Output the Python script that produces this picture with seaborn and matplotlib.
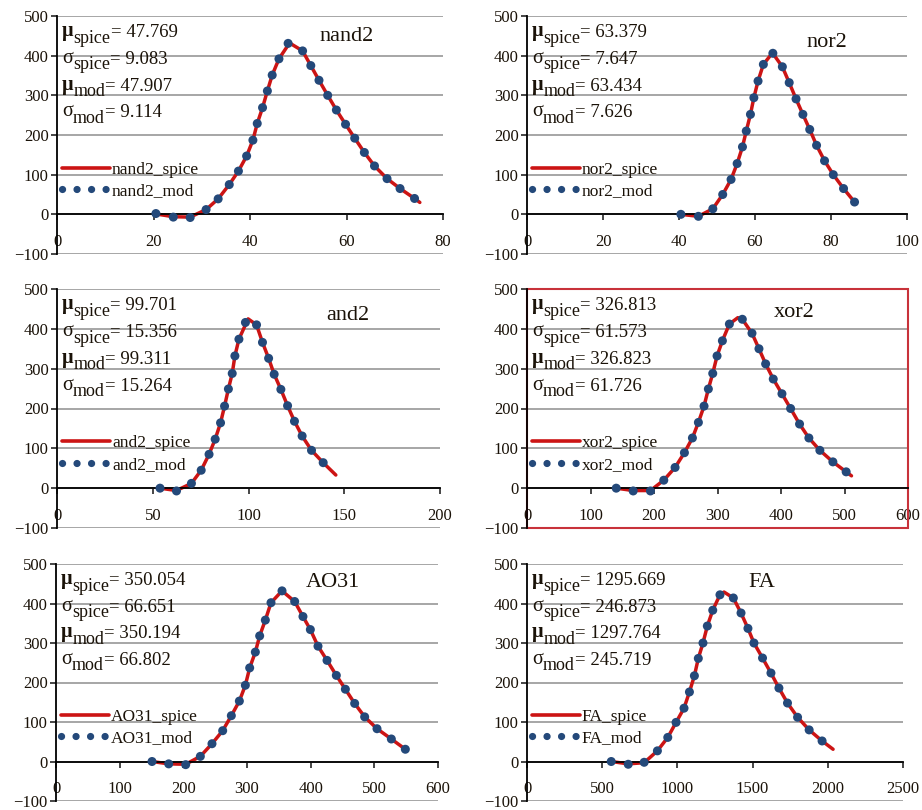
import matplotlib.pyplot as plt
import seaborn as sns
from matplotlib.lines import Line2D
from matplotlib.patches import Rectangle

# values
gates = ["nand2", "nor2", "and2", "xor2", "AO31", "FA"]

nand2_x = [20.5, 24.1, 27.6, 30.9, 33.4, 35.7, 37.6, 39.3, 40.6, 41.5, 42.6, 43.6, 44.6, 46.0,
           47.9, 50.9, 52.6, 54.3, 56.1, 57.9, 59.8, 61.7, 63.7, 65.8, 68.4, 71.1, 74.1]
nand2_mod = [2, -7, -8, 12, 39, 75, 109, 147, 187, 229, 269, 311, 351, 392,
             431, 412, 375, 338, 300, 263, 227, 192, 156, 122, 90, 65, 40]
nand2_spice_x = [20.5, 24.1, 27.6, 30.9, 33.4, 35.7, 37.6, 39.3, 40.6, 41.5, 42.6, 43.6, 44.6, 46.0,
                 48.2, 50.9, 52.6, 54.3, 56.1, 57.9, 59.8, 61.7, 63.7, 65.8, 68.4, 71.1, 74.1, 75.2]
nand2_spice = [1, -6, -7, 12, 39, 75, 109, 147, 187, 229, 269, 311, 351, 392,
               432, 412, 375, 338, 300, 263, 227, 192, 156, 122, 90, 65, 40, 30]

nor2_x = [40.5, 45.1, 48.9, 51.5, 53.7, 55.3, 56.7, 57.7, 58.8, 59.7, 60.8, 62.2, 64.7,
          67.2, 69.0, 70.8, 72.6, 74.4, 76.2, 78.3, 80.6, 83.3, 86.2]
nor2_mod = [0, -5, 14, 50, 88, 128, 170, 210, 252, 294, 336, 378, 406,
            372, 332, 291, 252, 214, 174, 135, 100, 65, 31]
nor2_spice_x = [40.5, 45.1, 48.9, 51.5, 53.7, 55.3, 56.7, 57.7, 58.8, 59.7, 60.8, 62.2, 64.6,
                67.2, 69.0, 70.8, 72.6, 74.4, 76.2, 78.3, 80.6, 83.3, 86.2]
nor2_spice = [0, -5, 14, 50, 88, 128, 170, 210, 252, 294, 336, 378, 407,
              372, 332, 291, 252, 214, 174, 135, 100, 65, 31]

and2_x = [53.8, 62.4, 70.2, 75.3, 79.4, 82.6, 85.4, 87.5, 89.5, 91.5, 92.9, 95.0, 98.4,
          104.2, 107.3, 110.5, 113.4, 116.9, 120.4, 124.0, 128.0, 132.9, 139.0]
and2_mod = [0, -7, 12, 45, 85, 123, 164, 206, 249, 288, 332, 374, 416,
            410, 366, 326, 286, 248, 207, 168, 131, 95, 64]
and2_spice_x = [53.8, 62.4, 70.2, 75.3, 79.4, 82.6, 85.4, 87.5, 89.5, 91.5, 92.9, 95.0, 99.8,
                104.2, 107.3, 110.5, 113.4, 116.9, 120.4, 124.0, 128.0, 132.9, 139.0, 145.6]
and2_spice = [0, -6, 12, 45, 85, 123, 164, 206, 249, 288, 332, 374, 425,
              410, 366, 326, 286, 248, 207, 168, 131, 95, 64, 33]

xor2_x = [140.5, 167.2, 194.4, 215.4, 233.2, 247.9, 260.5, 269.9, 278.8, 285.6, 292.5, 299.3, 307.7,
          318.7, 339.1, 354.3, 365.3, 375.8, 387.8, 401.5, 415.1, 429.2, 443.9, 461.2, 481.7, 502.6]
xor2_mod = [0, -7, -7, 20, 52, 89, 126, 165, 206, 249, 288, 332, 370,
            412, 424, 389, 350, 312, 274, 237, 200, 161, 126, 95, 66, 41]
xor2_spice_x = [140.5, 167.2, 194.4, 215.4, 233.2, 247.9, 260.5, 269.9, 278.8, 285.6, 292.5, 299.3,
                307.7, 318.7, 332.0, 339.1, 354.3, 365.3, 375.8, 387.8, 401.5, 415.1, 429.2, 443.9,
                461.2, 481.7, 502.6, 511.0]
xor2_spice = [0, -6, -6, 20, 52, 89, 126, 165, 206, 249, 288, 332,
              370, 412, 428, 424, 389, 350, 312, 274, 237, 200, 161, 126,
              95, 66, 41, 31]

ao31_x = [150.8, 177.0, 203.7, 226.7, 245.0, 261.8, 275.4, 288.0, 297.4, 304.2, 313.1, 319.9, 328.8,
          337.7, 355.0, 374.9, 387.9, 399.5, 411.5, 425.7, 440.3, 454.5, 469.1, 484.8, 504.2, 526.7,
          548.7]
ao31_mod = [0, -6, -8, 13, 45, 78, 116, 153, 193, 237, 277, 318, 358,
            402, 432, 405, 367, 334, 292, 256, 218, 183, 147, 113, 83, 57, 31]
ao31_spice_x = ao31_x
ao31_spice = [0, -6, -7, 13, 45, 78, 116, 153, 193, 237, 277, 318, 358,
              402, 432, 405, 367, 334, 292, 256, 218, 183, 147, 113, 83, 57, 31]

fa_x = [560, 673, 779, 867, 936, 991, 1044, 1080, 1113, 1139, 1170, 1199, 1235,
        1283, 1372, 1423, 1469, 1509, 1566, 1622, 1675, 1732, 1799, 1876, 1962]
fa_mod = [0, -7, -2, 27, 61, 99, 135, 176, 217, 261, 300, 343, 383,
          422, 414, 376, 337, 300, 262, 224, 186, 148, 112, 80, 52]
fa_spice_x = [560, 673, 779, 867, 936, 991, 1044, 1080, 1113, 1139, 1170, 1199, 1235,
              1283, 1310, 1372, 1423, 1469, 1509, 1566, 1622, 1675, 1732, 1799, 1876, 1962, 2035]
fa_spice = [0, -6, -3, 27, 61, 99, 135, 176, 217, 261, 300, 343, 383,
            422, 429, 414, 376, 337, 300, 262, 224, 186, 148, 112, 80, 52, 31]

mod_x = [nand2_x, nor2_x, and2_x, xor2_x, ao31_x, fa_x]
mod_y = [nand2_mod, nor2_mod, and2_mod, xor2_mod, ao31_mod, fa_mod]
spice_x = [nand2_spice_x, nor2_spice_x, and2_spice_x, xor2_spice_x, ao31_spice_x, fa_spice_x]
spice_y = [nand2_spice, nor2_spice, and2_spice, xor2_spice, ao31_spice, fa_spice]

mu_spice = [47.769, 63.379, 99.701, 326.813, 350.054, 1295.669]
sigma_spice = [9.083, 7.647, 15.356, 61.573, 66.651, 246.873]
mu_mod = [47.907, 63.434, 99.311, 326.823, 350.194, 1297.764]
sigma_mod = [9.114, 7.626, 15.264, 61.726, 66.802, 245.719]

x_max = [80, 100, 200, 600, 600, 2500]
x_step = [20, 20, 50, 100, 100, 500]

sns.set_style("white")
plt.rcParams["font.family"] = ["Liberation Serif", "DejaVu Serif"]

RED = "#CC1414"
BLUE = "#24497A"
GRID = "#A6A6A6"
INK = "#1a1208"

W, H = 922, 810
fig = plt.figure(figsize=(W / 100, H / 100), dpi=100)

# panel boxes in pixels: left, right, top, bottom
boxes = [(57, 443, 16, 254), (527, 907, 16, 254),
         (57, 440, 289, 528), (527, 908, 289, 528),
         (56, 438, 564, 801), (527, 903, 564, 801)]
title_pos = [(0.75, 0.915), (0.79, 0.89), (0.76, 0.89),
             (0.70, 0.90), (0.725, 0.92), (0.625, 0.92)]

for i, gate in enumerate(gates):
    l, r, t, b = boxes[i]
    ax = fig.add_axes([l / W, 1 - b / H, (r - l) / W, (b - t) / H])
    sns.lineplot(x=spice_x[i], y=spice_y[i], ax=ax, color=RED, lw=2.5,
                 sort=False, estimator=None, zorder=2)
    sns.scatterplot(x=mod_x[i], y=mod_y[i], ax=ax, color=BLUE, s=42,
                    edgecolor="none", zorder=3)

    ax.set_xlim(0, x_max[i])
    ax.set_ylim(-100, 500)
    ax.set_yticks(range(-100, 501, 100))
    ax.set_xticks(range(0, x_max[i] + 1, x_step[i]))
    ax.yaxis.grid(True, color=GRID, lw=1.4)
    ax.xaxis.grid(False)
    ax.set_axisbelow(True)
    ax.spines["bottom"].set_position(("data", 0))
    ax.spines["top"].set_visible(False)
    ax.spines["right"].set_visible(False)
    for s in ("left", "bottom"):
        ax.spines[s].set_color("black")
        ax.spines[s].set_linewidth(1.3)
    ax.tick_params(axis="x", bottom=True, direction="out", length=4, width=1.2,
                   pad=10, labelsize=12, labelcolor=INK)
    ax.tick_params(axis="y", left=True, direction="out", length=4, width=1.2,
                   pad=2, labelsize=12, labelcolor=INK)
    ax.set_xlabel("")
    ax.set_ylabel("")

    # stats block: symbol, near full size lowered subscript, then value
    stats = [("μ", "spice", mu_spice[i], "bold"),
             ("σ", "spice", sigma_spice[i], "normal"),
             ("μ", "mod", mu_mod[i], "bold"),
             ("σ", "mod", sigma_mod[i], "normal")]
    for k, (sym, sub, val, wt) in enumerate(stats):
        t1 = ax.text(0.013, 0.915 - k * 0.112, sym, transform=ax.transAxes,
                     ha="left", va="baseline", fontsize=14.5, fontweight=wt,
                     color=INK)
        t2 = ax.annotate(sub, xy=(1, 0), xycoords=t1, xytext=(0, -4),
                         textcoords="offset points", ha="left", va="bottom",
                         fontsize=13, color=INK)
        ax.annotate(f"= {val:.3f}", xy=(1, 0), xycoords=t2, xytext=(0, 4),
                    textcoords="offset points", ha="left", va="bottom",
                    fontsize=13.5, color=INK)

    ax.text(title_pos[i][0], title_pos[i][1], gate, transform=ax.transAxes,
            ha="center", va="center", fontsize=16, color=INK)

    handles = [Line2D([], [], color=RED, lw=2.6),
               Line2D([], [], color=BLUE, lw=5.2, linestyle=(0, (0.01, 2.0)),
                      dash_capstyle="round")]
    ax.legend(handles, [f"{gate}_spice", f"{gate}_mod"], loc="center left",
              bbox_to_anchor=(0.012, 0.31), frameon=False, handlelength=2.8,
              handletextpad=0.1, borderpad=0, borderaxespad=0,
              labelspacing=0.3, fontsize=12.5, labelcolor=INK)

    if gate == "xor2":
        # plot area of this panel is framed in red
        ax.add_patch(Rectangle((0, 0), 1, 1, transform=ax.transAxes, fill=False,
                               edgecolor="#C8323A", lw=1.5, clip_on=False, zorder=1.5))

fig.savefig("out.png", dpi=100)
